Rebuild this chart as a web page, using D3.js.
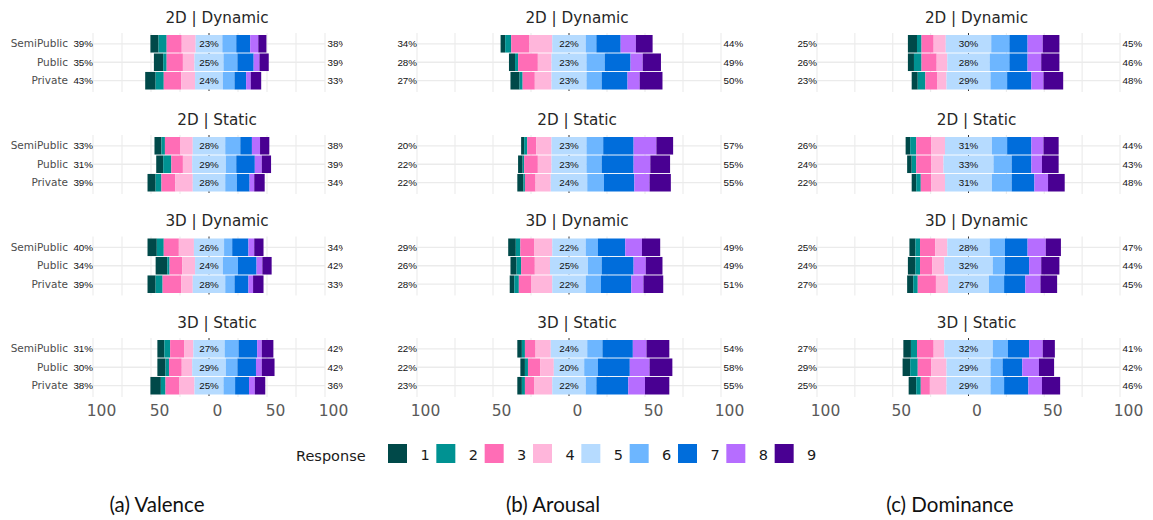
<!DOCTYPE html>
<html>
<head>
<meta charset="utf-8">
<script src="https://cdn.jsdelivr.net/npm/d3@7/dist/d3.min.js"></script>
<style>
  html, body { margin: 0; padding: 0; background: #fff; }
  svg { display: block; }
</style>
</head>
<body>
<svg id="chart" width="1153" height="520"></svg>
<script>
// ---------------- DATA ----------------
const groups = ["SemiPublic", "Public", "Private"];
const conditions = ["2D | Dynamic", "2D | Static", "3D | Dynamic", "3D | Static"];
const measures = ["(a) Valence", "(b) Arousal", "(c) Dominance"];
const responses = ["1", "2", "3", "4", "5", "6", "7", "8", "9"];
const responseColors = ["#004949", "#009292", "#ff6db6", "#ffb6db", "#b6dbff", "#6db6ff", "#006ddb", "#b66dff", "#490092"];
const axisTicks = [-100, -50, 0, 50, 100];
const gridTicks = [-100, -75, -50, -25, 25, 50, 75, 100];

// percentages of responses 1..9, rows: SemiPublic, Public, Private
const valence2DDynamic = [[7,7,13,12,23,12,12,7,7],[8,3,14,10,25,12,14,5,8],[9,7,15,12,24,10,10,4,9]];
const valence2DStatic  = [[6,3,13,11,28,13,10,7,8],[6,7,10,8,29,9,16,6,8],[7,5,12,15,28,10,11,4,9]];
const valence3DDynamic = [[8,6,13,13,26,7,14,5,8],[10,2,11,11,24,13,16,5,8],[7,6,16,10,28,8,12,4,9]];
const valence3DStatic  = [[6,5,12,8,27,12,16,4,10],[7,3,11,9,29,10,16,5,11],[9,4,12,13,25,10,12,5,9]];

const arousal2DDynamic = [[3,4,12,15,22,7,16,10,11],[4,2,13,9,23,12,17,8,12],[6,2,8,11,23,10,17,8,15]];
const arousal2DStatic  = [[2,2,6,10,23,11,20,15,11],[3,1,9,9,23,10,21,11,13],[4,1,7,10,24,11,20,10,14]];
const arousal3DDynamic = [[5,3,9,12,22,8,18,11,12],[4,3,9,10,25,9,21,8,11],[3,3,8,14,22,10,20,8,13]];
const arousal3DStatic  = [[3,2,7,10,24,10,20,9,15],[3,2,8,9,20,9,21,13,15],[3,2,6,12,22,7,21,11,16]];

const dominance2DDynamic = [[6,3,8,8,30,12,12,10,11],[4,5,10,7,28,13,12,9,12],[4,5,8,6,29,11,16,8,13]];
const dominance2DStatic  = [[3,4,10,9,31,10,16,8,10],[3,3,10,8,33,12,13,7,11],[3,3,7,9,31,13,15,9,11]];
const dominance3DDynamic = [[4,3,10,8,28,10,15,12,10],[5,3,8,8,32,8,16,8,12],[4,3,12,8,27,10,14,10,11]];
const dominance3DStatic  = [[5,4,11,7,32,10,14,9,8],[5,5,9,10,29,8,13,11,10],[5,3,6,11,29,9,16,9,12]];

const panels = [
  [valence2DDynamic, valence2DStatic, valence3DDynamic, valence3DStatic],
  [arousal2DDynamic, arousal2DStatic, arousal3DDynamic, arousal3DStatic],
  [dominance2DDynamic, dominance2DStatic, dominance3DDynamic, dominance3DStatic]
];

// ---------------- LAYOUT ----------------
const svg = d3.select("#chart");
const colRanges = [[93, 325], [417, 721], [817, 1120]];
const colClip = [343, 760, 1153];
const captionX = [157, 553, 950];
const panelTops = [35, 137, 238.5, 340];
const panelH = 54.5;
const sans = "'DejaVu Sans', sans-serif";
const color = d3.scaleOrdinal().domain(responses).range(responseColors);

const defs = svg.append("defs");

measures.forEach((m, ci) => {
  const x = d3.scaleLinear().domain([-100, 100]).range(colRanges[ci]);
  const clipId = "clip" + ci;
  const cx0 = ci === 0 ? 0 : colClip[ci - 1];
  defs.append("clipPath").attr("id", clipId)
    .append("rect").attr("x", cx0).attr("y", 0)
    .attr("width", colClip[ci] - cx0).attr("height", 400);
  const col = svg.append("g").attr("clip-path", `url(#${clipId})`);

  conditions.forEach((cond, pi) => {
    const top = panelTops[pi];
    const y = d3.scaleBand().domain(groups).range([top, top + panelH]).paddingInner(0.05);
    const g = col.append("g");

    // title
    g.append("text")
      .attr("x", x(0) + 8).attr("y", top - 12.5)
      .attr("text-anchor", "middle")
      .attr("font-family", sans).attr("font-size", 15.2)
      .attr("fill", "#262626")
      .text(cond);

    // grid
    g.selectAll(".vg").data(gridTicks).join("line")
      .attr("x1", d => x(d)).attr("x2", d => x(d))
      .attr("y1", top - 2).attr("y2", top + panelH + 2.5)
      .attr("stroke", "#ebebeb").attr("stroke-width", 1.1);
    g.selectAll(".hg").data(groups).join("line")
      .attr("x1", x(-100)).attr("x2", x(100))
      .attr("y1", d => y(d) + y.bandwidth() / 2).attr("y2", d => y(d) + y.bandwidth() / 2)
      .attr("stroke", "#ebebeb").attr("stroke-width", 1.3);
    // zero line
    g.append("line")
      .attr("x1", x(0)).attr("x2", x(0))
      .attr("y1", top - 2).attr("y2", top + panelH + 2.5)
      .attr("stroke", "#333").attr("stroke-width", 1)
      .attr("stroke-dasharray", "3,2");

    const data = panels[ci][pi];
    data.forEach((vals, ri) => {
      const grp = groups[ri];
      const neg = d3.sum(vals.slice(0, 4));
      const mid = vals[4];
      const pos = d3.sum(vals.slice(5));
      let start = -(neg + mid / 2);
      const segs = vals.map((v, k) => {
        const s = { k: responses[k], x0: start, x1: start + v };
        start += v;
        return s;
      });
      g.selectAll(null).data(segs).join("rect")
        .attr("x", d => x(d.x0))
        .attr("width", d => Math.max(0, x(d.x1) - x(d.x0)))
        .attr("y", y(grp))
        .attr("height", y.bandwidth())
        .attr("fill", d => color(d.k));

      const cy = y(grp) + y.bandwidth() / 2 + 3.5;
      const lbl = (tx, anchor, v) => g.append("text")
        .attr("x", tx).attr("y", cy).attr("text-anchor", anchor)
        .attr("font-family", "'Liberation Sans', Arial, sans-serif")
        .attr("font-size", 9.8).attr("fill", "#111")
        .text(Math.round(v) + "%");
      lbl(x(-100), "end", neg);
      lbl(x(0), "middle", mid);
      lbl(x(100) + 2.5, "start", pos);

      if (ci === 0) {
        g.append("text")
          .attr("x", 68).attr("y", cy)
          .attr("text-anchor", "end")
          .attr("font-family", sans).attr("font-size", 10.5)
          .attr("fill", "#4d4d4d")
          .text(grp);
      }
    });

    if (pi === conditions.length - 1) {
      const ax = svg.append("g")
        .attr("transform", `translate(0,${top + panelH + 3})`)
        .call(d3.axisBottom(x).tickValues(axisTicks).tickSize(0).tickPadding(7)
          .tickFormat(d => Math.abs(d)));
      ax.select(".domain").remove();
      ax.selectAll("text")
        .attr("font-family", sans).attr("font-size", 15.5)
        .attr("fill", "#5a5a5a").attr("dx", 8);
    }
  });

  // caption
  svg.append("text")
    .attr("x", captionX[ci]).attr("y", 512)
    .attr("text-anchor", "middle")
    .attr("font-family", "Lato, 'Open Sans', sans-serif").attr("font-size", 20.5)
    .attr("fill", "#111")
    .text(m);
});

// ---------------- LEGEND ----------------
const legend = svg.append("g");
legend.append("text")
  .attr("x", 296).attr("y", 460.5)
  .attr("font-family", sans).attr("font-size", 14.5).attr("fill", "#1a1a1a")
  .text("Response");
const lx = d3.scaleBand().domain(responses).range([388, 823]);
legend.selectAll("rect").data(responses).join("rect")
  .attr("x", d => lx(d)).attr("y", 444)
  .attr("width", 19).attr("height", 19)
  .attr("fill", d => color(d));
legend.selectAll(".lt").data(responses).join("text")
  .attr("x", d => lx(d) + 37).attr("y", 459.5)
  .attr("text-anchor", "middle")
  .attr("font-family", sans).attr("font-size", 14.5).attr("fill", "#1a1a1a")
  .text(d => d);
</script>
</body>
</html>
